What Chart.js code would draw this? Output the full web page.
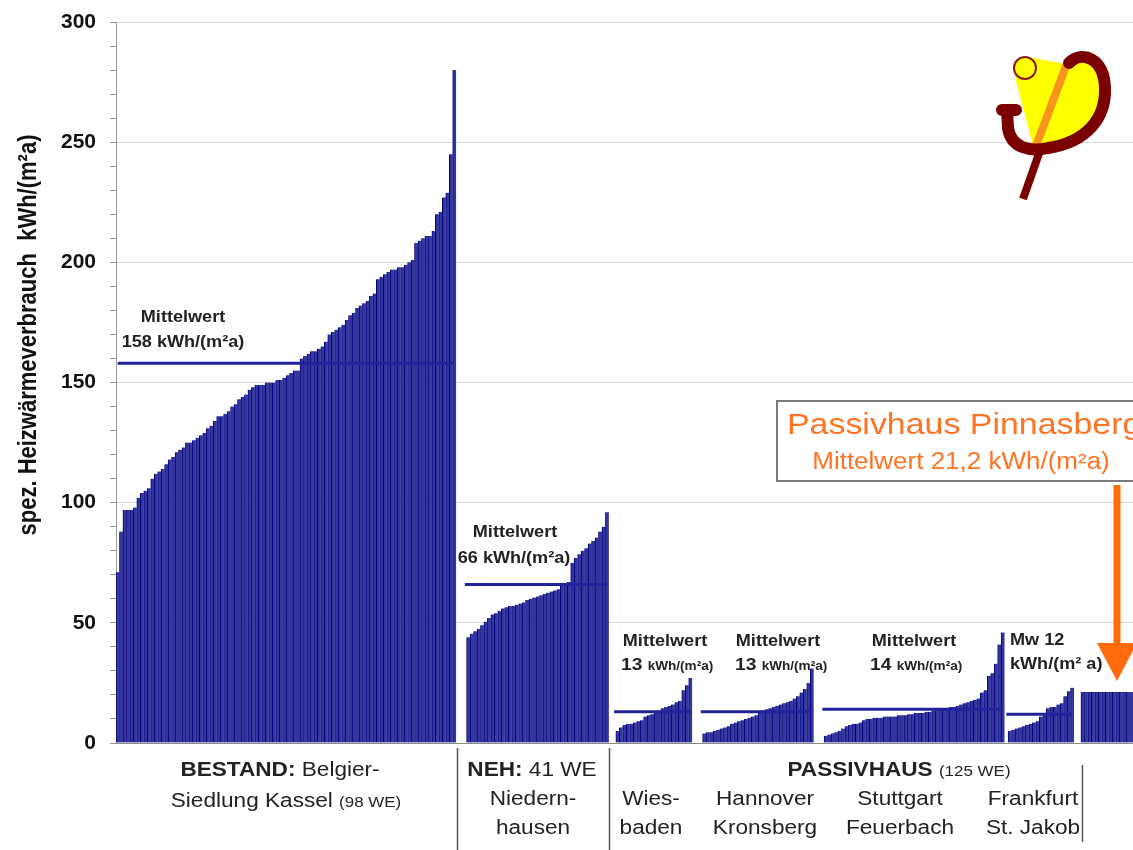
<!DOCTYPE html>
<html lang="de">
<head>
<meta charset="UTF-8" />
<title>Heizwärmeverbrauch</title>
<style>
  body { margin: 0; padding: 0; background: #fff; overflow: hidden; }
  #wrap { width: 1133px; height: 850px; }
</style>
</head>
<body>
<div id="wrap"><canvas id="chart" width="1133" height="850"></canvas></div>
<script src="https://cdn.jsdelivr.net/npm/chart.js@4.4.1/dist/chart.umd.min.js"></script>
<script>
// spez. Heizwärmeverbrauch je Wohneinheit in kWh/(m²a), aufsteigend sortiert
const bestand = [
  71, 88, 97, 97, 97, 98, 102, 104, 105, 106,
  110, 112, 113, 114, 116, 118, 119, 121, 122, 123,
  125, 125, 126, 127, 128, 129, 131, 132, 134, 136,
  136, 137, 138, 140, 141, 143, 144, 145, 147, 148,
  149, 149, 149, 150, 150, 150, 151, 151, 152, 153,
  154, 155, 155, 160, 161, 162, 163, 163, 164, 165,
  167, 170, 171, 172, 173, 174, 176, 178, 179, 181,
  182, 183, 184, 186, 187, 193, 194, 195, 196, 197,
  197, 198, 198, 199, 200, 201, 208, 209, 210, 211,
  211, 213, 220, 221, 227, 229, 245, 280
];
const neh = [
  44, 45.5, 46.5, 47.5, 49, 50.5, 52, 53.5, 54, 55,
  56, 56.5, 57, 57, 57.5, 58, 58.5, 59.5, 60, 60.5,
  61, 61.5, 62, 62.5, 63, 63.5, 64, 65.5, 66, 67,
  75, 77, 78.5, 80, 81, 83, 84, 85.5, 88, 90, 96
];
const wiesbaden = [
  5, 6.5, 7.5, 8, 8, 8.5, 9, 9.5, 11, 11.5, 12,
  13, 13.5, 14.5, 15, 15.5, 16, 17, 17.5, 22, 24, 27
];
const hannover = [
  4, 4.5, 4.5, 5, 5.5, 6, 6.5, 7, 8, 8.5, 9, 9.5, 10, 10.5, 11, 11.5,
  13, 13.5, 14, 14.5, 15, 15.5, 16, 16.5, 17, 17.5, 18.5, 19.5, 21, 22.5, 25, 31
];
const stuttgart = [
  3, 3.5, 4, 4.5, 5, 6, 7, 7.5, 8, 8, 8.5, 9.5, 10,
  10, 10.5, 10.5, 10.5, 11, 11, 11, 11, 11.5, 11.5, 11.5, 12, 12,
  12.5, 12.5, 12.5, 13, 13, 13.5, 14, 14, 14, 14.5, 15, 15, 15.5,
  16, 16.5, 17, 17.5, 18, 18.5, 21, 22, 28, 29, 33, 41, 46
];
const frankfurt = [
  5, 5.5, 6, 6.5, 7, 7.5, 8, 8.5, 9, 11,
  11.5, 14.5, 15, 15, 16, 16.5, 19.5, 21.5, 23
];
const pinnasberg = [
  21.2, 21.2, 21.2, 21.2, 21.2, 21.2, 21.2, 21.2,
  21.2, 21.2, 21.2, 21.2, 21.2, 21.2, 21.2
];

// Mittelwerte der Siedlungen (Pinnasberg steht im Kasten)
const mittelwerte = [158, 66, 13, 13, 14, 12];
const mittelPinnasberg = "21,2";

// Achse
const yMax = 300;
const yStep = 10;
const yBeschriftung = 50;

// leere Kategorien vor jeder Gruppe
const gruppen = [bestand, neh, wiesbaden, hannover, stuttgart, frankfurt, pinnasberg];
const luecke = [0, 3, 2, 3, 3, 1, 2];

const werte = [];
const anfang = [];
const ende = [];
gruppen.forEach((g, i) => {
  for (let k = 0; k < luecke[i]; k++) werte.push(null);
  anfang.push(werte.length);
  g.forEach((v) => werte.push(v));
  ende.push(werte.length - 1);
});
const labels = werte.map((_, i) => String(i));

// Mittelwert-Linien über die jeweilige Gruppe
const linien = mittelwerte.map((m, i) => {
  const von = Math.max(anfang[i] - 1, 0);
  const data = werte.map((_, k) => (k >= von && k <= ende[i] ? m : null));
  return {
    type: "line",
    data: data,
    borderColor: "#22229a",
    borderWidth: 3,
    pointRadius: 0,
    spanGaps: false,
    order: 0,
  };
});

const SCHRIFT = "'Liberation Sans', Arial, sans-serif";
const DEHNUNG = 1.13;

// Text aus mehreren Teilen (Text, Schrift, Farbe) auf einer Grundlinie
function schreibe(ctx, teile, x, y, align) {
  const breiten = teile.map((t) => {
    ctx.font = t[1];
    return ctx.measureText(t[0]).width;
  });
  const gesamt = breiten.reduce((a, b) => a + b, 0);
  ctx.save();
  ctx.translate(x, y);
  ctx.scale(DEHNUNG, 1);
  let cx = align === "center" ? -gesamt / 2 : align === "right" ? -gesamt : 0;
  ctx.textAlign = "left";
  ctx.textBaseline = "alphabetic";
  teile.forEach((t, i) => {
    ctx.font = t[1];
    ctx.fillStyle = t[2] || "#222";
    ctx.fillText(t[0], cx, 0);
    cx += breiten[i];
  });
  ctx.restore();
}

const fett = (s) => "bold " + s + "px " + SCHRIFT;
const normal = (s) => s + "px " + SCHRIFT;

function zeichneLogo(ctx) {
  ctx.save();
  ctx.lineJoin = "round";
  ctx.lineCap = "round";
  // Lichtkegel
  ctx.fillStyle = "#ffff00";
  ctx.beginPath();
  ctx.moveTo(1015, 77);
  ctx.lineTo(1027, 57);
  ctx.lineTo(1066, 64);
  ctx.lineTo(1080, 57);
  ctx.lineTo(1098, 68);
  ctx.lineTo(1101, 98);
  ctx.lineTo(1093, 126);
  ctx.lineTo(1072, 141);
  ctx.lineTo(1048, 146);
  ctx.lineTo(1033, 146);
  ctx.closePath();
  ctx.fill();
  // orangefarbener Strich
  ctx.strokeStyle = "#f7941d";
  ctx.lineWidth = 8;
  ctx.beginPath();
  ctx.moveTo(1036, 146);
  ctx.lineTo(1066, 66);
  ctx.stroke();
  // Schleife des Phi
  ctx.strokeStyle = "#7a0000";
  ctx.lineWidth = 12;
  ctx.beginPath();
  ctx.moveTo(1002, 110);
  ctx.lineTo(1016, 110);
  ctx.moveTo(1007, 110);
  ctx.lineTo(1008, 128);
  ctx.bezierCurveTo(1011, 148, 1030, 152, 1048, 148);
  ctx.bezierCurveTo(1087, 142, 1106, 118, 1105, 88);
  ctx.bezierCurveTo(1104, 58, 1082, 50, 1069, 63);
  ctx.stroke();
  // Abstrich
  ctx.lineWidth = 8;
  ctx.lineCap = "butt";
  ctx.beginPath();
  ctx.moveTo(1042, 145);
  ctx.lineTo(1023, 199);
  ctx.stroke();
  // Sonne
  ctx.fillStyle = "#ffff00";
  ctx.strokeStyle = "#8b1a1a";
  ctx.lineWidth = 2;
  ctx.beginPath();
  ctx.arc(1025, 68, 11, 0, Math.PI * 2);
  ctx.fill();
  ctx.stroke();
  ctx.restore();
}

const beschriftung = {
  id: "beschriftung",
  afterDraw(chart) {
    const ctx = chart.ctx;

    // Achsentitel
    ctx.save();
    ctx.translate(29, 335);
    ctx.rotate(-Math.PI / 2);
    ctx.scale(1, DEHNUNG);
    ctx.font = fett(22);
    ctx.fillStyle = "#111";
    ctx.textAlign = "center";
    ctx.textBaseline = "middle";
    ctx.fillText("spez. Heizwärmeverbrauch  kWh/(m²a)", 0, 0);
    ctx.restore();

    // Mittelwerte
    schreibe(ctx, [["Mittelwert", fett(16)]], 183, 322, "center");
    schreibe(ctx, [[mittelwerte[0] + " kWh/(m²a)", fett(16)]], 183, 347, "center");
    schreibe(ctx, [["Mittelwert", fett(16)]], 515, 537, "center");
    schreibe(ctx, [[mittelwerte[1] + " kWh/(m²a)", fett(16)]], 514, 563, "center");
    const passiv = [[665, 621], [778, 735], [914, 870]];
    passiv.forEach((p, i) => {
      schreibe(ctx, [["Mittelwert", fett(16)]], p[0], 646, "center");
      schreibe(ctx, [[mittelwerte[2 + i] + " ", fett(17)], ["kWh/(m²a)", fett(12)]], p[1], 670, "left");
    });
    schreibe(ctx, [["Mw " + mittelwerte[5], fett(16)]], 1010, 645, "left");
    schreibe(ctx, [["kWh/(m² a)", fett(16)]], 1010, 669, "left");

    // Kasten Pinnasberg
    ctx.save();
    ctx.strokeStyle = "#7a7a7a";
    ctx.lineWidth = 2;
    ctx.strokeRect(777, 401, 420, 80);
    ctx.restore();
    schreibe(ctx, [["Passivhaus Pinnasberg", normal(30), "#ff7324"]], 787, 434, "left");
    schreibe(ctx, [["Mittelwert " + mittelPinnasberg + " kWh/(m²a)", normal(23), "#ff7324"]], 961, 469, "center");

    // Pfeil
    ctx.save();
    ctx.fillStyle = "#ff6a0d";
    ctx.fillRect(1113.5, 485, 7, 160);
    ctx.beginPath();
    ctx.moveTo(1097, 643);
    ctx.lineTo(1137, 643);
    ctx.lineTo(1117, 681);
    ctx.closePath();
    ctx.fill();
    ctx.restore();

    zeichneLogo(ctx);

    // Gruppenbeschriftung unter der Achse
    ctx.save();
    ctx.strokeStyle = "#555";
    ctx.lineWidth = 1.5;
    [[457.5, 748, 850], [609.5, 748, 850], [1082.5, 765, 842]].forEach((s) => {
      ctx.beginPath();
      ctx.moveTo(s[0], s[1]);
      ctx.lineTo(s[0], s[2]);
      ctx.stroke();
    });
    ctx.restore();

    schreibe(ctx, [["BESTAND: ", fett(20)], ["Belgier-", normal(20)]], 280, 776, "center");
    schreibe(ctx, [["Siedlung Kassel ", normal(20)], ["(98 WE)", normal(15)]], 286, 807, "center");
    schreibe(ctx, [["NEH: ", fett(20)], ["41 WE", normal(20)]], 532, 776, "center");
    schreibe(ctx, [["Niedern-", normal(20)]], 533, 805, "center");
    schreibe(ctx, [["hausen", normal(20)]], 533, 834, "center");
    schreibe(ctx, [["PASSIVHAUS ", fett(20)], ["(125 WE)", normal(15)]], 899, 776, "center");
    const orte = [
      ["Wies-", "baden", 651],
      ["Hannover", "Kronsberg", 765],
      ["Stuttgart", "Feuerbach", 900],
      ["Frankfurt", "St. Jakob", 1033],
    ];
    orte.forEach((o) => {
      schreibe(ctx, [[o[0], normal(20)]], o[2], 805, "center");
      schreibe(ctx, [[o[1], normal(20)]], o[2], 834, "center");
    });
  },
};

new Chart(document.getElementById("chart"), {
  type: "bar",
  data: {
    labels: labels,
    datasets: [
      {
        type: "bar",
        data: werte,
        backgroundColor: "#3535a0",
        borderColor: "#000078",
        borderWidth: { left: 1, right: 0, top: 0, bottom: 0 },
        borderSkipped: false,
        barPercentage: 1,
        categoryPercentage: 1,
        order: 1,
      },
      ...linien,
    ],
  },
  options: {
    responsive: false,
    animation: false,
    layout: { padding: { left: 0, right: 0, top: 22, bottom: 107 } },
    plugins: {
      legend: { display: false },
      tooltip: { enabled: false },
    },
    scales: {
      x: { display: false },
      y: {
        min: 0,
        max: yMax,
        afterFit(scale) {
          scale.width = 116;
          // Platz oben/unten regelt allein das Layout-Padding
          scale.paddingTop = 0;
          scale.paddingBottom = 0;
        },
        ticks: {
          stepSize: yStep,
          autoSkip: false,
          padding: 14,
          color: "#111",
          font: { family: SCHRIFT, size: 21, weight: "bold" },
          callback: (v) => (v % yBeschriftung === 0 ? v : ""),
        },
        grid: {
          color: (c) =>
            c.tick.value === 0
              ? "#8a8a8a"
              : c.tick.value % yBeschriftung === 0
              ? "#d8d8d8"
              : "rgba(0,0,0,0)",
          tickColor: "#999",
          tickLength: 6,
        },
        border: { color: "#999" },
      },
    },
  },
  plugins: [beschriftung],
});
</script>
</body>
</html>
